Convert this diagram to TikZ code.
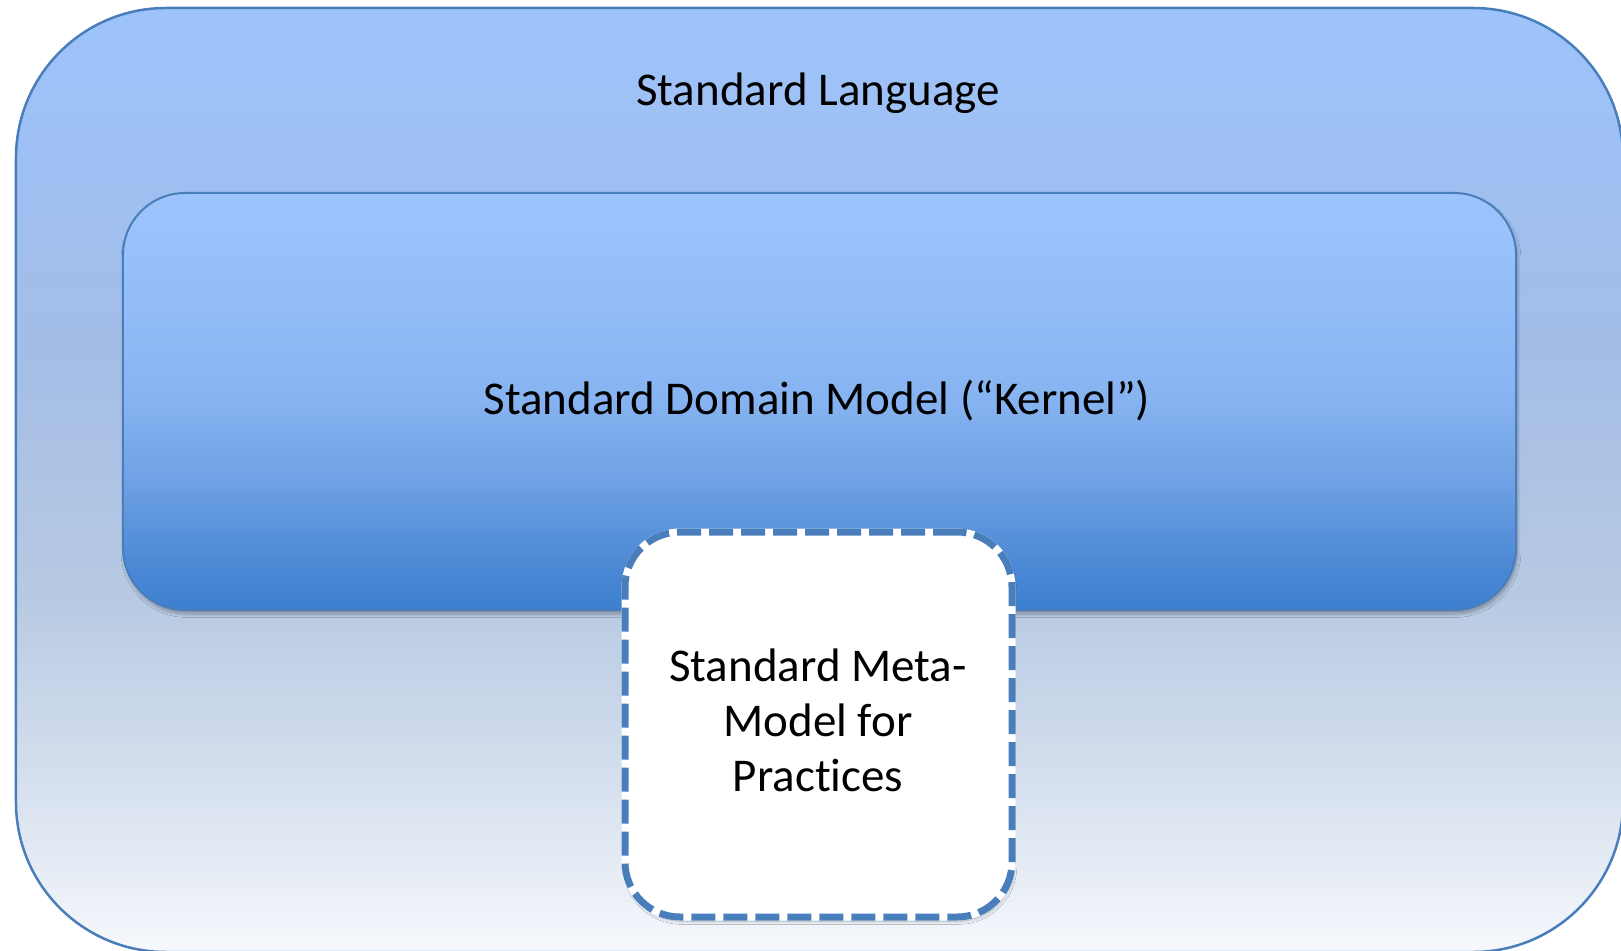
\documentclass[tikz,border=0pt]{standalone}
\usepackage{fontspec}
\setmainfont{Carlito}[Ligatures=NoCommon]
\usetikzlibrary{positioning,shadows.blur}
\definecolor{edge}{HTML}{4A7EBB}
% colour stops, top to bottom
\definecolor{sky0}{HTML}{9DC3FA}\definecolor{sky1}{HTML}{9EC0F4}\definecolor{sky2}{HTML}{A3BDE6}
\definecolor{sky3}{HTML}{B8CAE3}\definecolor{sky4}{HTML}{D6E0EE}\definecolor{sky5}{HTML}{F6F8FC}
\definecolor{ker0}{HTML}{9DC4FC}\definecolor{ker1}{HTML}{94BDF8}\definecolor{ker2}{HTML}{86B3F1}
\definecolor{ker3}{HTML}{6FA1E4}\definecolor{ker4}{HTML}{4D8AD6}\definecolor{ker5}{HTML}{3D80D0}
\pgfdeclareverticalshading{langshade}{100bp}{color(0bp)=(sky5); color(25bp)=(sky5);
  color(34bp)=(sky4); color(43.6bp)=(sky3); color(56.9bp)=(sky2); color(67.5bp)=(sky1);
  color(75bp)=(sky0); color(100bp)=(sky0)}
\pgfdeclareverticalshading{kernelshade}{100bp}{color(0bp)=(ker5); color(25bp)=(ker5);
  color(31bp)=(ker4); color(40.6bp)=(ker3); color(50.2bp)=(ker2); color(62.2bp)=(ker1);
  color(75bp)=(ker0); color(100bp)=(ker0)}
\tikzset{every node/.style={font=\fontsize{26.75}{31.3}\selectfont},
  langbox/.style={draw=edge,line width=.5mm,rounded corners=30mm,shading=langshade},
  kernelbox/.style={draw=edge,line width=.4mm,rounded corners=12.4mm,shading=kernelshade,
    blur shadow={shadow xshift=.3mm,shadow yshift=-.8mm,shadow opacity=30,shadow blur steps=8}},
  metabox/.style={draw=white,fill=white,line width=1.4mm,rounded corners=11mm,
    blur shadow={shadow xshift=.3mm,shadow yshift=-.8mm,shadow opacity=30,shadow blur steps=8}},
  metadash/.style={draw=edge,line width=1.4mm,rounded corners=11mm,dash pattern=on 4.8mm off 1.6mm}}

\begin{document}
\begin{tikzpicture}[x=.2mm,y=-.2mm]
\useasboundingbox (0,0) rectangle (1621,951);\clip (0,0) rectangle (1621,951);
% outer language area, cut off at the right and bottom
\node[langbox,minimum width=321.4mm,minimum height=188.8mm] (lang) at (819.5,480) {};
\node (langtxt) at (818,93) {Standard Language};
% kernel block
\node[kernelbox,minimum width=278.6mm,minimum height=83.4mm] (kernel) at (819.5,401.5) {};
\node (kerneltxt) at (817,401) {Standard Domain Model (“Kernel”)};
% meta-model block sitting over the kernel's lower edge
\node[metabox,minimum width=77.4mm,minimum height=77mm] (meta) at (818.5,724.5) {};
\node[metadash,minimum width=77.4mm,minimum height=77mm] (metaline) at (meta) {};
\node[align=center] (metatxt) at (818,720) {Standard Meta-\\Model for\\Practices};
\end{tikzpicture}
\end{document}
